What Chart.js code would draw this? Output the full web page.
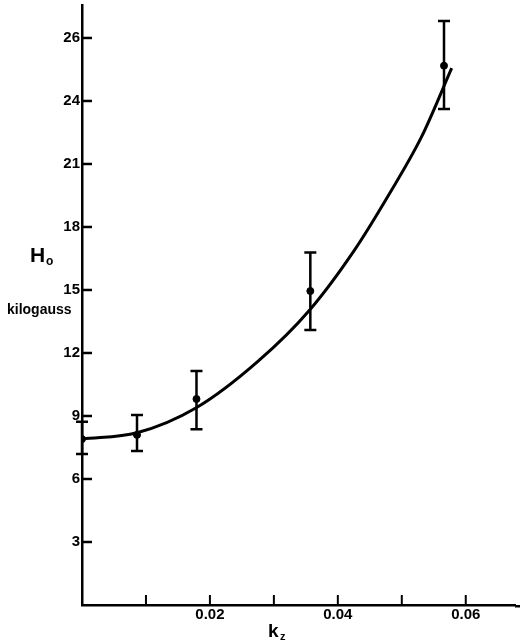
<!DOCTYPE html>
<html>
<head>
<meta charset="utf-8">
<script src="https://cdn.jsdelivr.net/npm/chart.js@4"></script>
<style>
  body { margin:0; background:#fff; }
  canvas { display:block; }
</style>
</head>
<body>
<canvas id="c" width="520" height="642"></canvas>
<script>
// measured points (k_z, H_o) with error bars
const kz      = [0,    0.0086, 0.0179, 0.0357, 0.0566];
const h0      = [7.9,  8.1,    9.81,   14.95,  25.68];
const errLow  = [7.19, 7.33,   8.37,   13.1,   23.62];
const errHigh = [8.73, 9.05,   11.14,  16.78,  27.81];

// smooth curve
const curveX = [0, 0.0086, 0.0178, 0.0275, 0.0356, 0.0426, 0.0479, 0.0531, 0.0578];
const curveY = [7.9, 8.2, 9.38, 11.6, 14.05, 16.9, 19.5, 22.3, 25.56];

// axis ticks (the top label in the original reads 26)
const yTickValues = [3, 6, 9, 12, 15, 18, 21, 24, 27];
const yTickLabels = ['3', '6', '9', '12', '15', '18', '21', '24', '26'];
const xTickValues = [0.01, 0.02, 0.03, 0.04, 0.05, 0.06];
const xTickLabels = ['', '0.02', '', '0.04', '', '0.06'];

const FONT = '"Liberation Sans", Arial, sans-serif';

// tick marks inside the axes, error bars and axis titles
const extras = {
  id: 'extras',
  afterDatasetsDraw(chart) {
    const ctx = chart.ctx, x = chart.scales.x, y = chart.scales.y;
    const a = chart.chartArea;
    ctx.save();
    ctx.strokeStyle = '#000';
    ctx.lineCap = 'butt';

    ctx.lineWidth = 2.5;
    yTickValues.forEach(v => {
      const py = y.getPixelForValue(v);
      ctx.beginPath(); ctx.moveTo(a.left, py); ctx.lineTo(a.left + 10, py); ctx.stroke();
    });
    ctx.lineWidth = 2;
    xTickValues.forEach(v => {
      const px = x.getPixelForValue(v);
      ctx.beginPath(); ctx.moveTo(px, a.bottom); ctx.lineTo(px, a.bottom - 10); ctx.stroke();
    });

    // x axis runs on to the page edge
    ctx.lineWidth = 2.5;
    ctx.beginPath(); ctx.moveTo(a.right, a.bottom + 1.25); ctx.lineTo(chart.width, a.bottom + 1.25); ctx.stroke();

    // error bars
    kz.forEach((k, i) => {
      const px = x.getPixelForValue(k);
      const lo = y.getPixelForValue(errLow[i]), hi = y.getPixelForValue(errHigh[i]);
      ctx.beginPath();
      ctx.moveTo(px, lo); ctx.lineTo(px, hi);
      ctx.moveTo(px - 6, lo); ctx.lineTo(px + 6, lo);
      ctx.moveTo(px - 6, hi); ctx.lineTo(px + 6, hi);
      ctx.stroke();
    });

    // axis titles
    ctx.fillStyle = '#000';
    ctx.textBaseline = 'alphabetic';
    ctx.textAlign = 'left';
    ctx.font = 'bold 21px ' + FONT;
    ctx.fillText('H', 30, 262);
    ctx.font = 'bold 12px ' + FONT;
    ctx.fillText('o', 46, 265);
    ctx.font = 'bold 14px ' + FONT;
    ctx.fillText('kilogauss', 7, 314);
    ctx.font = 'bold 19px ' + FONT;
    ctx.fillText('k', 268, 637);
    ctx.font = 'bold 11px ' + FONT;
    ctx.fillText('z', 280, 640);
    ctx.restore();
  }
};

new Chart(document.getElementById('c'), {
  type: 'scatter',
  data: {
    datasets: [
      {
        type: 'line',
        data: curveX.map((v, i) => ({ x: v, y: curveY[i] })),
        borderColor: '#000',
        borderWidth: 3,
        pointRadius: 0,
        fill: false,
        cubicInterpolationMode: 'monotone'
      },
      {
        data: kz.map((v, i) => ({ x: v, y: h0[i] })),
        backgroundColor: '#000',
        borderColor: '#000',
        pointRadius: 3.5
      }
    ]
  },
  options: {
    responsive: false,
    animation: false,
    layout: { padding: { top: 5, right: 0, left: 0, bottom: 0 } },
    plugins: { legend: { display: false }, tooltip: { enabled: false } },
    scales: {
      x: {
        type: 'linear', min: 0, max: 0.0677,
        afterBuildTicks: s => { s.ticks = xTickValues.map(v => ({ value: v })); },
        afterFit: s => { s.height = 37; s.paddingLeft = 0; s.paddingRight = 0; },
        grid: { display: false, drawTicks: false },
        border: { display: true, color: '#000', width: 2.5 },
        ticks: {
          autoSkip: false, maxRotation: 0, padding: 1, color: '#000',
          font: { family: FONT, size: 15, weight: 'bold' },
          callback: (v, i) => xTickLabels[i]
        }
      },
      y: {
        type: 'linear', min: 0, max: 28.57,
        afterBuildTicks: s => { s.ticks = yTickValues.map(v => ({ value: v })); },
        afterFit: s => { s.width = 82; s.paddingTop = 0; s.paddingBottom = 0; },
        grid: { display: false, drawTicks: false },
        border: { display: true, color: '#000', width: 2.5 },
        ticks: {
          autoSkip: false, padding: 2, color: '#000',
          font: { family: FONT, size: 15, weight: 'bold' },
          callback: (v, i) => yTickLabels[i]
        }
      }
    }
  },
  plugins: [extras]
});
</script>
</body>
</html>
